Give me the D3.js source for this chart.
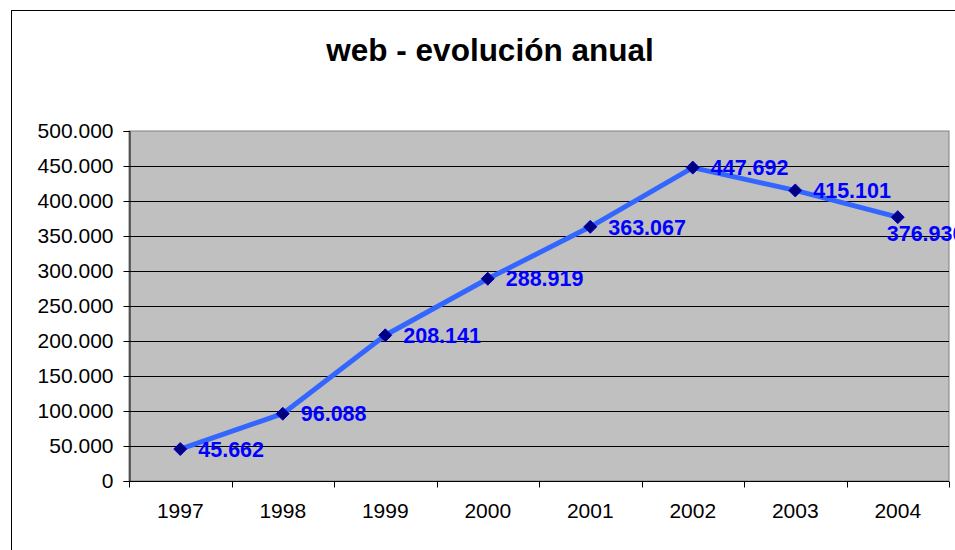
<!DOCTYPE html>
<html>
<head>
<meta charset="utf-8">
<script src="https://cdn.jsdelivr.net/npm/d3@7"></script>
<style>
  body { margin: 0; background: #fff; }
  svg { display: block; font-family: "Liberation Sans", Arial, sans-serif; }
</style>
</head>
<body>
<div id="chart"></div>
<script>
// data
var years = ["1997", "1998", "1999", "2000", "2001", "2002", "2003", "2004"];
var visits = [45662, 96088, 208141, 288919, 363067, 447692, 415101, 376930];
var yTicks = [0, 50000, 100000, 150000, 200000, 250000, 300000, 350000, 400000, 450000, 500000];

var W = 955, H = 550;
var plot = { left: 129, top: 131, right: 949, bottom: 481 };

var loc = d3.formatLocale({ decimal: ",", thousands: ".", grouping: [3], currency: ["", ""] });
var fmt = loc.format(",d");

var svg = d3.select("#chart").append("svg")
    .attr("width", W)
    .attr("height", H);

// outer chart border
svg.append("rect")
    .attr("x", 11.5).attr("y", 10.5)
    .attr("width", 1000).attr("height", 600)
    .attr("fill", "none").attr("stroke", "#000");

var x = d3.scaleBand().domain(years).range([plot.left, plot.right]);
var y = d3.scaleLinear().domain([0, 500000]).range([plot.bottom, plot.top]);

// plot background
svg.append("rect")
    .attr("x", plot.left).attr("y", plot.top)
    .attr("width", plot.right - plot.left).attr("height", plot.bottom - plot.top)
    .attr("fill", "#c0c0c0")
    .attr("stroke", "#808080");

// gridlines
svg.append("g").selectAll("line")
    .data(yTicks.filter(function (d) { return d > 0 && d < 500000; }))
    .enter().append("line")
    .attr("x1", plot.left).attr("x2", plot.right)
    .attr("y1", function (d) { return Math.round(y(d)) + 0.5; })
    .attr("y2", function (d) { return Math.round(y(d)) + 0.5; })
    .attr("stroke", "#000");

// y axis
var yAxis = svg.append("g")
    .attr("transform", "translate(" + (plot.left + 0.5) + ",0)")
    .call(d3.axisLeft(y).tickValues(yTicks).tickFormat(fmt).tickSize(6).tickPadding(10));
yAxis.selectAll("text").attr("font-size", 21).attr("fill", "#000").attr("font-family", "Liberation Sans, Arial, sans-serif");
yAxis.select(".domain").attr("stroke", "#000");

// x axis with ticks at category boundaries
var xAxis = svg.append("g")
    .attr("transform", "translate(0," + (plot.bottom + 0.5) + ")")
    .call(d3.axisBottom(x).tickSize(0).tickPadding(22));
xAxis.selectAll("text").attr("font-size", 21).attr("fill", "#000").attr("font-family", "Liberation Sans, Arial, sans-serif");
xAxis.select(".domain").attr("d", "M" + plot.left + ",0H" + plot.right).attr("stroke", "#000");
xAxis.selectAll(".bound")
    .data(years.concat(["end"]))
    .enter().append("line")
    .attr("class", "bound")
    .attr("x1", function (d, i) { return Math.round(plot.left + i * x.step()) + 0.5; })
    .attr("x2", function (d, i) { return Math.round(plot.left + i * x.step()) + 0.5; })
    .attr("y1", 0).attr("y2", 6)
    .attr("stroke", "#000");

// line
var line = d3.line()
    .x(function (d, i) { return x(years[i]) + x.bandwidth() / 2; })
    .y(function (d) { return y(d); });

svg.append("path")
    .datum(visits)
    .attr("d", line)
    .attr("fill", "none")
    .attr("stroke", "#3366ff")
    .attr("stroke-width", 5)
    .attr("stroke-linejoin", "round");

// diamond markers
svg.append("g").selectAll("path")
    .data(visits)
    .enter().append("path")
    .attr("transform", function (d, i) {
        return "translate(" + (x(years[i]) + x.bandwidth() / 2) + "," + y(d) + ")";
    })
    .attr("d", "M0,-6.5L6.5,0L0,6.5L-6.5,0Z")
    .attr("fill", "#000080")
    .attr("stroke", "#0000cc")
    .attr("stroke-width", 1);

// data labels
svg.append("g").selectAll("text")
    .data(visits)
    .enter().append("text")
    .attr("x", function (d, i) {
        var cx = x(years[i]) + x.bandwidth() / 2;
        return i === visits.length - 1 ? cx - 11 : cx + 18;
    })
    .attr("y", function (d, i) {
        return i === visits.length - 1 ? y(d) + 16 : y(d);
    })
    .attr("dy", "0.36em")
    .attr("font-size", 21.5)
    .attr("font-weight", "bold")
    .attr("fill", "#0000ff")
    .text(function (d) { return fmt(d); });

// title
svg.append("text")
    .attr("x", 490).attr("y", 61)
    .attr("text-anchor", "middle")
    .attr("font-size", 31.5)
    .attr("font-weight", "bold")
    .attr("fill", "#000")
    .text("web - evolución anual");
</script>
</body>
</html>
